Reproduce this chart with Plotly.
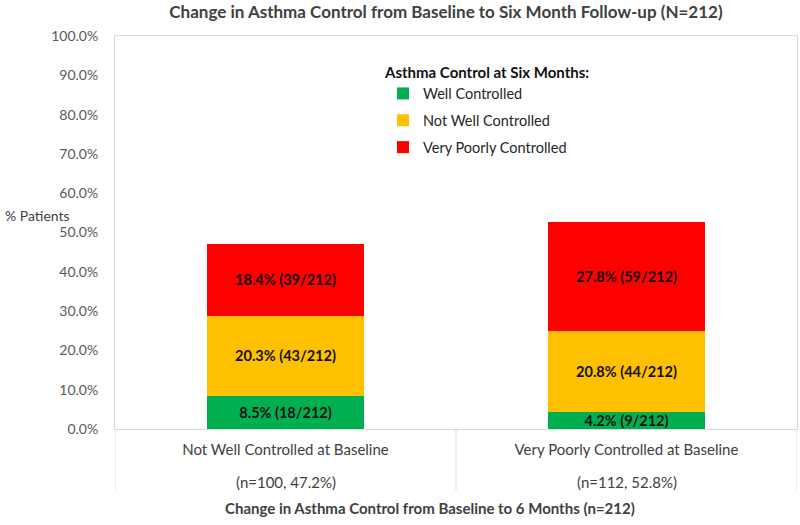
import plotly.graph_objects as go

# ---- data ----
categories = ["Not Well Controlled at Baseline", "Very Poorly Controlled at Baseline"]
category_n = ["(n=100, 47.2%)", "(n=112, 52.8%)"]
total_n = 212
series_names = ["Well Controlled", "Not Well Controlled", "Very Poorly Controlled"]
well_pct = [8.5, 4.2]
well_cnt = [18, 9]
notwell_pct = [20.3, 20.8]
notwell_cnt = [43, 44]
verypoor_pct = [18.4, 27.8]
verypoor_cnt = [39, 59]
y_ticks = [0, 10, 20, 30, 40, 50, 60, 70, 80, 90, 100]
y_ticktext = [f"{v:.1f}%" for v in y_ticks]

colors = ["#00B050", "#FFC000", "#FF0000"]
FONT = "Lato"

fig = go.Figure()
series = [(well_pct, well_cnt), (notwell_pct, notwell_cnt), (verypoor_pct, verypoor_cnt)]
for i, ((pcts, cnts), name) in enumerate(zip(series, series_names)):
    labels = [f"{p:.1f}% ({c}/{total_n})" for p, c in zip(pcts, cnts)]
    fig.add_trace(go.Bar(
        x=categories, y=pcts, name=name, text=labels,
        marker=dict(color=colors[i], line=dict(width=0)),
        textposition="inside", insidetextanchor="middle", textangle=0,
        constraintext="none",
        textfont=dict(family=FONT, size=14.5, color="#111111", weight="bold"),
        legendgroup=name, width=0.46, hoverinfo="skip",
    ))

W, H = 800, 525
L, R, T, B = 115, 3, 36, 96
pw = W - L - R
ph = H - T - B

def px_x(x):
    return (x - L) / pw

def px_y(y):
    return (H - B - y) / ph

fig.update_layout(
    width=W, height=H, barmode="stack",
    paper_bgcolor="white", plot_bgcolor="white",
    margin=dict(l=L, r=R, t=T, b=B),
    font=dict(family=FONT, size=14, color="#404040"),
    title=dict(text="<b>Change in Asthma Control from Baseline to Six Month Follow-up (N=212)</b>",
               x=446 / W, xanchor="center", y=1 - 12 / H, yanchor="middle",
               font=dict(family=FONT, size=17, color="#404040")),
    xaxis=dict(tickmode="array", tickvals=categories, ticktext=categories,
               showline=True, linecolor="#D9D9D9", linewidth=1, mirror=True,
               ticks="", showgrid=False, range=[-0.5, 1.5], automargin=False,
               ticklabelstandoff=7,
               tickfont=dict(family=FONT, size=15, color="#404040")),
    yaxis=dict(range=[0, 100], tickmode="array", tickvals=y_ticks, ticktext=y_ticktext,
               showline=True, linecolor="#D9D9D9", linewidth=1, mirror=True,
               ticks="", showgrid=False, zeroline=False, ticklabelstandoff=13,
               automargin=False,
               tickfont=dict(family=FONT, size=14, color="#595959")),
    legend=dict(title=dict(text="<b>Asthma Control at Six Months:</b>",
                           font=dict(family=FONT, size=15, color="#111111")),
                x=px_x(383), y=px_y(58), xanchor="left", yanchor="top",
                traceorder="grouped", tracegroupgap=5,
                font=dict(family=FONT, size=14.5, color="#262626"),
                bgcolor="rgba(0,0,0,0)", itemwidth=30),
    showlegend=True,
)

# category separators below the axis
for xv in [-0.5, 0.5, 1.5]:
    fig.add_shape(type="line", xref="x", yref="paper", x0=xv, x1=xv,
                  y0=0, y1=px_y(490), line=dict(color="#D9D9D9", width=1))

# second line of category labels
for c, n in zip(categories, category_n):
    fig.add_annotation(text=n, xref="x", yref="paper", x=c, y=px_y(482),
                       xanchor="center", yanchor="middle", showarrow=False,
                       font=dict(family=FONT, size=15, color="#404040"))

fig.add_annotation(text="% Patients", xref="paper", yref="paper",
                   x=px_x(3), y=px_y(215), xanchor="left", yanchor="middle",
                   showarrow=False, font=dict(family=FONT, size=14, color="#404040"))
fig.add_annotation(text="<b>Change in Asthma Control from Baseline to 6 Months (n=212)</b>",
                   xref="paper", yref="paper", x=px_x(430), y=px_y(508),
                   xanchor="center", yanchor="middle", showarrow=False,
                   font=dict(family=FONT, size=15, color="#404040"))

fig.write_html("out.html", config={"displayModeBar": False},
               post_script="document.body.style.margin='0px';")
